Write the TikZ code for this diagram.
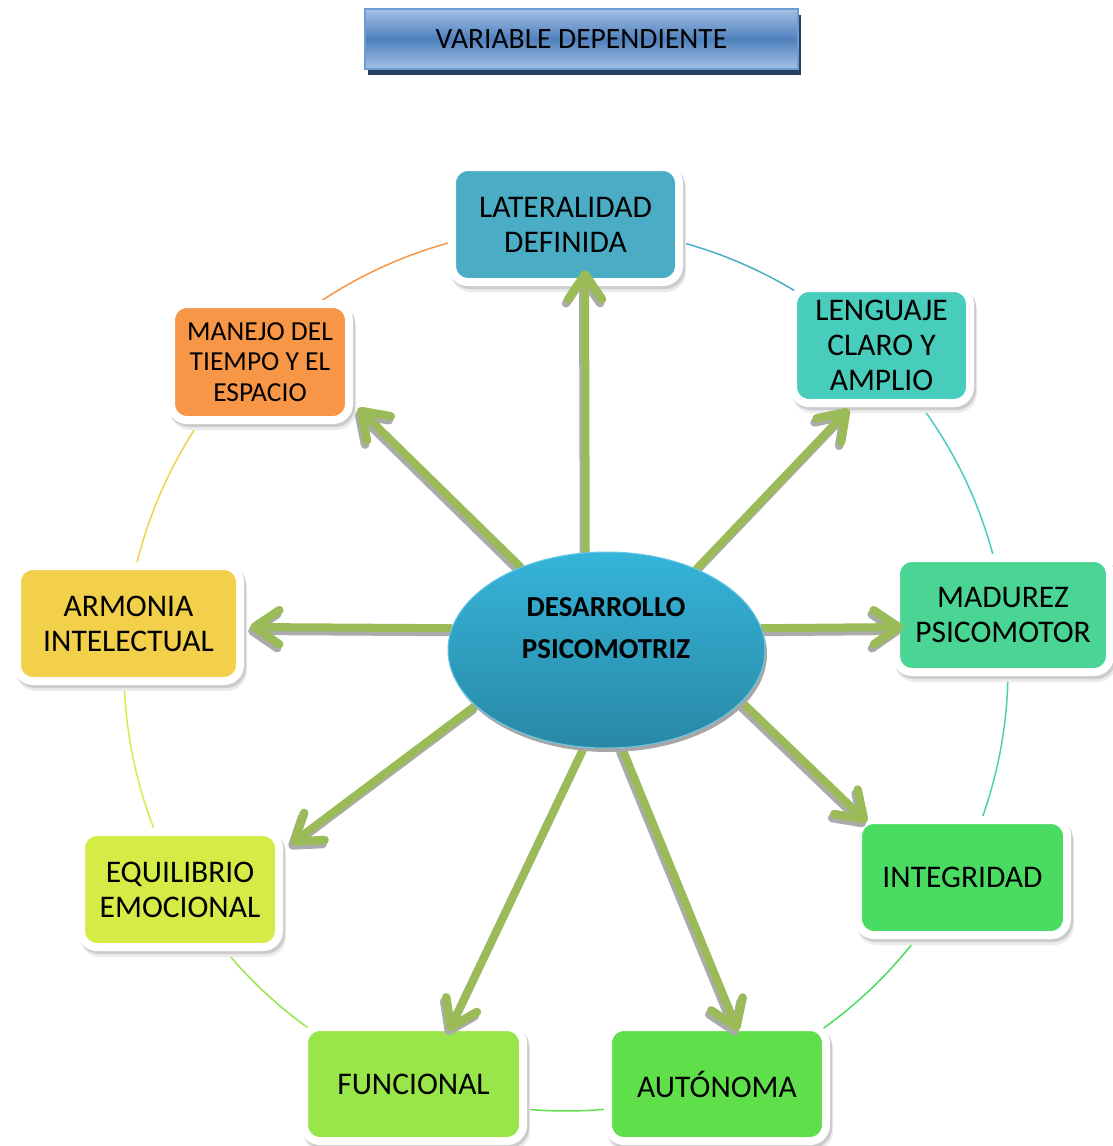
\documentclass[tikz,border=0pt]{standalone}
\usepackage{fontspec}
\setmainfont{Carlito}
\usetikzlibrary{arrows.meta,shapes.geometric}
\definecolor{cLat}{HTML}{4BACC6}
\definecolor{cLen}{HTML}{48CCBB}
\definecolor{cMad}{HTML}{4AD594}
\definecolor{cInt}{HTML}{4ADB62}
\definecolor{cAut}{HTML}{5FE04A}
\definecolor{cFun}{HTML}{98E64A}
\definecolor{cEqu}{HTML}{D5EC46}
\definecolor{cArm}{HTML}{F2D04A}
\definecolor{cMan}{HTML}{F79646}
\definecolor{cArr}{HTML}{9BBB59}
\definecolor{cEllTop}{HTML}{36B4DA}
\definecolor{cEllBot}{HTML}{2888A5}
\definecolor{cTtop}{HTML}{A4C0E6}
\definecolor{cTmid}{HTML}{4F81BD}
\definecolor{cTbor}{HTML}{6E9BD4}
\definecolor{cTsh}{HTML}{243F60}
\pgfdeclarelayer{back}
\pgfdeclarelayer{front}
\pgfsetlayers{back,main,front}
\begin{document}
\begin{tikzpicture}[x=1pt,y=-1pt,
  cbox/.style={rounded corners=16pt, draw=white, line width=8pt, fill=#1,
    inner sep=0pt, align=center, font=\fontsize{31.5}{35}\selectfont,
    preaction={fill=black!8, draw=black!8, line width=8pt, transform canvas={xshift=3pt,yshift=-6pt}},
    preaction={fill=black!20, draw=black!20, line width=8pt, transform canvas={xshift=2pt,yshift=-3pt}}},
  ring/.style={line width=1.5pt, draw=#1},
  arrtip/.style={-{Straight Barb[length=25pt,width=34pt,line width=8.5pt,round]}},
  arr/.style={draw=cArr, line width=8pt, line cap=round, arrtip},
  arrsh/.style={draw=black!33, line width=8pt, line cap=round, arrtip, transform canvas={xshift=-2pt,yshift=-4pt}},
]
\useasboundingbox (0,0) rectangle (1113,1146);

% title
\node[minimum width=433pt, minimum height=60pt, inner sep=0pt, draw=cTbor, line width=2pt,
  top color=cTtop, bottom color=cTtop, middle color=cTmid,
  preaction={fill=cTsh, transform canvas={xshift=3pt,yshift=-6pt}},
  font=\fontsize{29.5}{34}\selectfont] (title) at (581.5,39) {VARIABLE DEPENDIENTE};

% ring arcs
\coordinate (C) at (566,669);
\begin{pgfonlayer}{back}
\draw[ring=cLat, shift={(C)}] plot[domain=-90:-45.4, samples=40] (\x:442);
\draw[ring=cLen, shift={(C)}] plot[domain=-45.4:-6.8, samples=40] (\x:442);
\draw[ring=cMad, shift={(C)}] plot[domain=-6.8:27.8, samples=40] (\x:442);
\draw[ring=cInt, shift={(C)}] plot[domain=27.8:70, samples=40] (\x:442);
\draw[ring=cAut, shift={(C)}] plot[domain=70:109.9, samples=40] (\x:442);
\draw[ring=cFun, shift={(C)}] plot[domain=109.9:149.9, samples=40] (\x:442);
\draw[ring=cEqu, shift={(C)}] plot[domain=149.9:185.8, samples=40] (\x:442);
\draw[ring=cArm, shift={(C)}] plot[domain=185.8:225.1, samples=40] (\x:442);
\draw[ring=cMan, shift={(C)}] plot[domain=225.1:270, samples=40] (\x:442);
\end{pgfonlayer}

% boxes
\node[cbox=cLat, minimum width=227pt, minimum height=115pt] (lat) at (565.5,224.5) {LATERALIDAD\\DEFINIDA};
\node[cbox=cLen, minimum width=177pt, minimum height=115pt] (len) at (881.5,345.5) {LENGUAJE\\CLARO Y\\AMPLIO};
\node[cbox=cMad, minimum width=214pt, minimum height=114pt] (mad) at (1003,615) {MADUREZ\\PSICOMOTOR};
\node[cbox=cInt, minimum width=209pt, minimum height=115pt] (intg) at (962.5,877.5) {INTEGRIDAD};
\node[cbox=cAut, minimum width=218pt, minimum height=114pt] (aut) at (717,1084) {AUTÓNOMA};
\node[cbox=cFun, minimum width=219pt, minimum height=114pt] (fun) at (413.5,1084) {FUNCIONAL};
\node[cbox=cEqu, minimum width=198pt, minimum height=115pt] (equ) at (180,889.5) {EQUILIBRIO\\EMOCIONAL};
\node[cbox=cArm, minimum width=223pt, minimum height=115pt] (arm) at (128.5,623.5) {ARMONIA\\INTELECTUAL};
\node[cbox=cMan, minimum width=178pt, minimum height=116pt, font=\fontsize{27.5}{30.5}\selectfont] (man) at (260,362) {MANEJO DEL\\TIEMPO Y EL\\ESPACIO};

% central ellipse
\begin{pgfonlayer}{front}
\node[ellipse, minimum width=317pt, minimum height=196pt, inner sep=0pt,
  top color=cEllTop, bottom color=cEllBot, draw=cEllTop!75!white, line width=1pt,
  preaction={fill=black!35, transform canvas={xshift=2pt,yshift=-4pt}}] (ell) at (606.5,650) {};
\node[font=\bfseries\fontsize{29}{42}\selectfont, align=center, inner sep=0pt] (ellt) at (606,628) {DESARROLLO\\PSICOMOTRIZ};
\end{pgfonlayer}

% arrows: shadows
\draw[arrsh] (ell.102) -- ([shift={(19.5,45.5)}]lat.center);
\draw[arrsh] (ell.42) -- ([shift={(-32.5,63.5)}]len.center);
\draw[arrsh] (ell.8) -- ([shift={(-100,12)}]mad.center);
\draw[arrsh] (ell.-21) -- ([shift={(-95.5,-55.5)}]intg.center);
\draw[arrsh] (ell.-81) -- ([shift={(21,-53)}]aut.center);
\draw[arrsh] (ell.-103) -- ([shift={(35.5,-53)}]fun.center);
\draw[arrsh] (ell.-157) -- ([shift={(111,-45.5)}]equ.center);
\draw[arrsh] (ell.172) -- ([shift={(121.5,3.5)}]arm.center);
\draw[arrsh] (ell.136) -- ([shift={(98,46)}]man.center);
% arrows
\draw[arr] (ell.102) -- ([shift={(19.5,45.5)}]lat.center);
\draw[arr] (ell.42) -- ([shift={(-32.5,63.5)}]len.center);
\draw[arr] (ell.8) -- ([shift={(-100,12)}]mad.center);
\draw[arr] (ell.-21) -- ([shift={(-95.5,-55.5)}]intg.center);
\draw[arr] (ell.-81) -- ([shift={(21,-53)}]aut.center);
\draw[arr] (ell.-103) -- ([shift={(35.5,-53)}]fun.center);
\draw[arr] (ell.-157) -- ([shift={(111,-45.5)}]equ.center);
\draw[arr] (ell.172) -- ([shift={(121.5,3.5)}]arm.center);
\draw[arr] (ell.136) -- ([shift={(98,46)}]man.center);
\end{tikzpicture}
\end{document}
